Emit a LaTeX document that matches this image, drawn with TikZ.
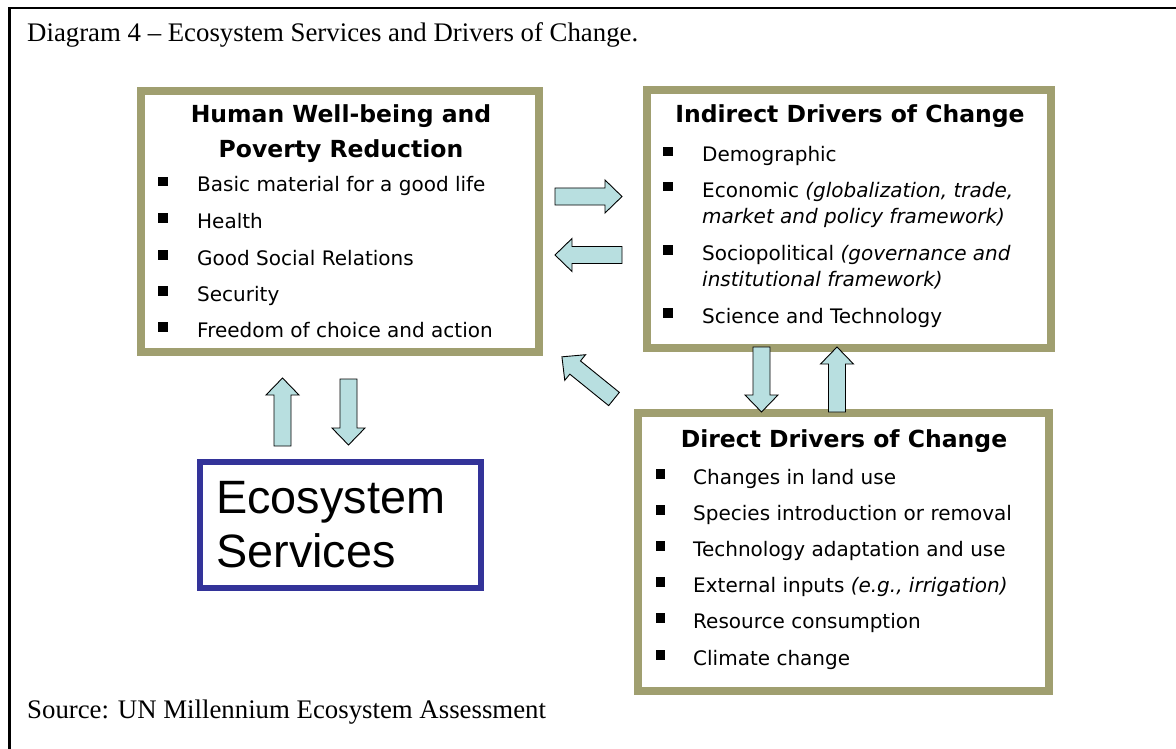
\documentclass[tikz,border=0pt]{standalone}
\usepackage{fontspec}
\setmainfont{Liberation Serif}
\newfontfamily\boxfont{DejaVu Sans}
\newfontfamily\bigfont{Liberation Sans}
\definecolor{olive}{HTML}{A09F70}
\definecolor{paleblue}{HTML}{B8DFE0}
\definecolor{deepblue}{HTML}{333399}
\tikzset{
  olivebox/.style={draw=olive, line width=8pt, fill=white, inner sep=0pt},
  ecobox/.style={draw=deepblue, line width=6pt, fill=white, inner sep=0pt},
  head/.style={anchor=base, inner sep=0pt, font=\boxfont\fontsize{23.5}{27}\selectfont\bfseries},
  itemtxt/.style={anchor=base west, inner sep=0pt, font=\boxfont\fontsize{20}{24}\selectfont},
  blockfill/.style={fill=paleblue, draw=black, line width=0.9pt, line join=miter},
}
% block arrow: tail point, direction angle, total length
\newcommand\blockarrow[3]{%
  \begin{scope}[shift={#1}, rotate=#2]
    \filldraw[blockfill] (0,-8.5) -- ({#3-17},-8.5) -- ({#3-17},-16.5) -- (#3,0)
      -- ({#3-17},16.5) -- ({#3-17},8.5) -- (0,8.5) -- cycle;
  \end{scope}}
% square bullet at x, baseline y
\newcommand\sqbullet[2]{\fill (#1,#2-15) rectangle (#1+9.5,#2-5.5);}
\begin{document}
\begin{tikzpicture}[x=1pt,y=-1pt]
\useasboundingbox (0,0) rectangle (1176,749);
\fill[white] (0,0) rectangle (1176,749);
% page frame
\draw[line width=2.6pt] (9.5,749) -- (9.5,8) -- (1176,8);

% caption and source
\node[anchor=base west, inner sep=0pt, font=\fontsize{26.8}{30}\selectfont] (title) at (27,42)
  {Diagram 4 -- Ecosystem Services and Drivers of Change.};
\node[anchor=base west, inner sep=0pt, font=\fontsize{26.8}{30}\selectfont] (source) at (27,718)
  {Source: UN Millennium Ecosystem Assessment};

% boxes
\node[olivebox, minimum width=398pt, minimum height=261pt] (hwb) at (340,221.5) {};
\node[olivebox, minimum width=404pt, minimum height=258pt] (ind) at (849,219) {};
\node[olivebox, minimum width=411pt, minimum height=278pt] (dir) at (843.5,552) {};
\node[ecobox, minimum width=281pt, minimum height=126pt] (eco) at (340.5,525) {};

% human well-being
\node[head] (hwbh1) at (341,123) {Human Well-being and};
\node[head] (hwbh2) at (341,158) {Poverty Reduction};
\foreach \y/\t in {192/Basic material for a good life, 228/Health,
                   265/Good Social Relations, 301/Security,
                   337/Freedom of choice and action}{
  \sqbullet{158}{\y}
  \node[itemtxt] at (197,\y) {\t};
}

% indirect drivers
\node[head] (indh) at (850,123) {Indirect Drivers of Change};
\foreach \y in {162,197,260,323}{\sqbullet{663}{\y}}
\node[itemtxt] (i1) at (702,162) {Demographic};
\node[itemtxt] (i2) at (702,197) {Economic \textit{(globalization, trade,}};
\node[itemtxt] (i2b) at (702,223) {\textit{market and policy framework)}};
\node[itemtxt] (i3) at (702,260) {Sociopolitical \textit{(governance and}};
\node[itemtxt] (i3b) at (702,286) {\textit{institutional framework)}};
\node[itemtxt] (i4) at (702,323) {Science and Technology};

% direct drivers
\node[head] (dirh) at (844,447) {Direct Drivers of Change};
\foreach \y/\t in {484/Changes in land use, 520/Species introduction or removal,
                   556/Technology adaptation and use,
                   592/External inputs \textit{(e.g., irrigation)},
                   628/Resource consumption, 665/Climate change}{
  \sqbullet{655.5}{\y}
  \node[itemtxt] at (693,\y) {\t};
}

% ecosystem services
\node[anchor=base west, inner sep=0pt, font=\bigfont\fontsize{46.8}{56}\selectfont] (eco1) at (216,513) {Ecosystem};
\node[anchor=base west, inner sep=0pt, font=\bigfont\fontsize{46.8}{56}\selectfont] (eco2) at (216,567) {Services};

% arrows between the boxes
\coordinate (a1) at (555,196.5);
\coordinate (a2) at (622,255);
\coordinate (a3) at (761.5,347);
\coordinate (a4) at (837,412);
\coordinate (a5) at (614,399);
\coordinate (a6) at (282.5,446);
\coordinate (a7) at (348.5,379);
\blockarrow{(a1)}{0}{67}
\blockarrow{(a2)}{180}{67}
\blockarrow{(a3)}{-90}{65}
\blockarrow{(a4)}{90}{65}
\blockarrow{(a5)}{141}{67}
\blockarrow{(a6)}{90}{68}
\blockarrow{(a7)}{-90}{66}
\end{tikzpicture}
\end{document}
